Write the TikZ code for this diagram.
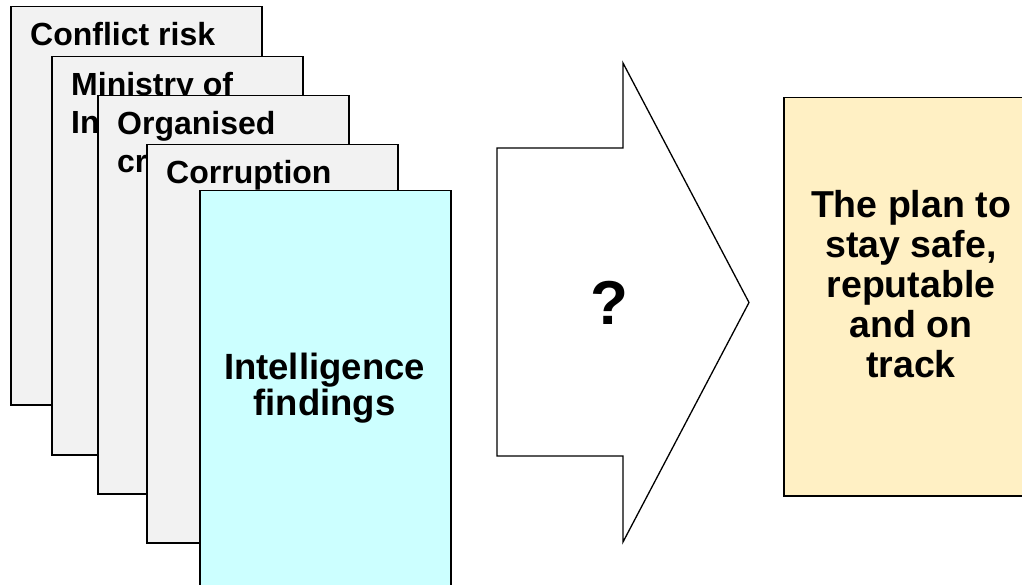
\documentclass[tikz,border=0pt]{standalone}
\usepackage{fontspec}
\setmainfont{Liberation Sans}
\definecolor{cardgray}{HTML}{F2F2F2}
\definecolor{intcyan}{HTML}{CCFFFF}
\definecolor{planyellow}{HTML}{FFF0C4}
\begin{document}
\begin{tikzpicture}[x=1pt,y=-1pt,
  card/.style={draw=black, line width=1.5pt, fill=cardgray, inner sep=0pt,
    minimum width=251pt, minimum height=398pt, anchor=north west},
  cardtext/.style={font=\fontsize{32}{38}\selectfont\bfseries, inner sep=0pt, anchor=base west},
  bigtext/.style={inner sep=0pt, align=center, anchor=north},
  arrowshape/.style={draw=black, line width=1.3pt, fill=white, line join=miter}]
\useasboundingbox (0,0) rectangle (1022,585);

\node[card] (c1) at (10,6) {};
\node[cardtext] (t1) at (30,46) {Conflict risk};

\node[card] (c2) at (51,56) {};
\node[cardtext] (t2a) at (71,96) {Ministry of};
\node[cardtext] (t2b) at (71,134) {In};

\node[card] (c3) at (97,95) {};
\node[cardtext] (t3a) at (117,135) {Organised};
\node[cardtext] (t3b) at (117,173) {cr};

\node[card] (c4) at (146,144) {};
\node[cardtext] (t4) at (166,184) {Corruption};

\node[card, fill=intcyan] (c5) at (199,190) {};
\node[bigtext, font=\fontsize{36.5}{36}\selectfont\bfseries] (t5) at (324.5,352.5) {Intelligence\\findings};

\draw[arrowshape] (497,148) -- (623,148) -- (623,63) -- (749,302.5) -- (623,542) -- (623,456) -- (497,456) -- cycle;
\node[inner sep=0pt, font=\fontsize{62}{62}\selectfont\bfseries] (q) at (609,302.5) {?};

\node[card, fill=planyellow, minimum width=260pt] (plan) at (783,97) {};
\node[bigtext, font=\fontsize{37.5}{40}\selectfont\bfseries] (pt) at (911,190) {The plan to\\stay safe,\\reputable\\and on\\track};
\end{tikzpicture}
\end{document}
